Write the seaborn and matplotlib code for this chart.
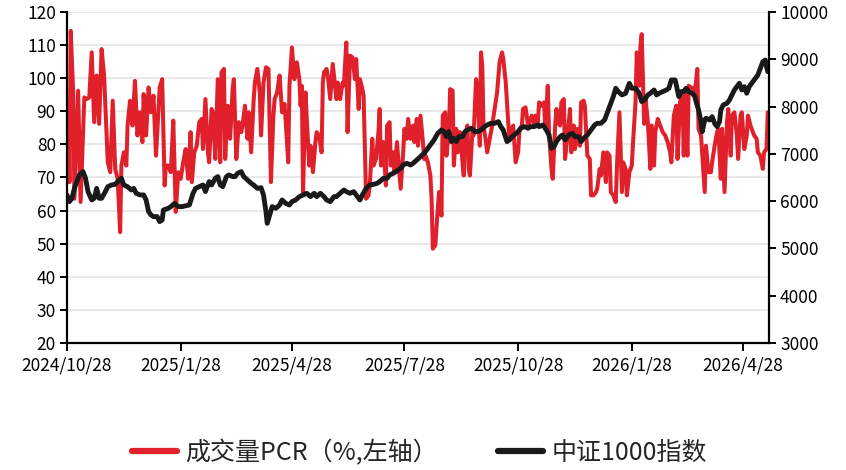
import numpy as np
import pandas as pd
import matplotlib
matplotlib.use("Agg")
import matplotlib.pyplot as plt
import seaborn as sns
from matplotlib.lines import Line2D

# ---------------- data ----------------
start_date = "2024-10-28"

pcr_days = [0, 1, 2, 3, 5, 6, 9, 11, 14, 16, 18, 20, 22, 24, 26, 28, 30, 33, 35, 37, 39, 41, 43, 44, 46, 48, 49,
            51, 53, 55, 57, 59, 61, 62, 64, 66, 68, 70, 72, 74, 75, 77, 79, 80, 82, 84, 86, 88, 90, 92, 94,
            96, 98, 100, 101, 103, 105, 107, 109, 110, 112, 114, 115, 117, 118, 120, 122, 124, 125, 127, 128,
            130, 132, 134, 135, 137, 139, 141, 142, 144, 146, 147, 149, 151, 152, 154, 156, 157, 159, 161, 163,
            164, 165, 167, 168, 170, 172, 174, 176, 177, 179, 180, 182, 184, 186, 188, 189,
            190, 191, 193, 194, 196, 197, 199, 201, 202, 204, 206, 207, 208, 210, 211, 213, 215, 216, 218, 219,
            221, 223, 224, 226, 227, 229, 231, 233, 234, 236, 237, 239, 240, 242, 244, 245, 247, 248, 250, 252,
            253, 254, 256, 258, 259, 261, 262, 264, 265, 267, 268, 270, 272, 273, 275, 276, 278, 280, 281, 283, 284,
            286, 288, 289, 290, 292, 294, 295, 296, 298, 300, 301, 303, 304, 306, 307, 309, 310, 312, 313, 315,
            316, 318, 320, 321, 322, 324, 325, 326, 328, 329, 331, 332, 334, 335, 336, 337, 339, 340, 342, 344,
            346, 348, 350, 352, 353, 355, 357, 358, 360, 361, 363, 365, 366, 368, 369, 371, 373, 374, 376, 378, 379,
            381, 382, 384, 386, 387, 389, 390, 392, 393, 395, 396, 397, 399, 400, 402, 403, 405, 407, 408, 410,
            411, 413, 415, 416, 418, 419, 421, 423, 424, 426, 428, 429, 431, 432, 434, 436, 437, 439, 440, 442,
            444, 445, 447, 449, 450, 452, 453, 455, 457, 458, 460, 461, 463, 464, 465, 467, 468, 470, 472, 473,
            475, 476, 478, 480, 482, 484, 486, 488, 489, 491, 493, 494, 496, 498, 499, 500, 502, 503, 505, 507,
            508, 510, 511, 513, 515, 516, 517, 519, 521, 522, 524, 526, 527, 529, 530, 532, 534, 535, 537, 538,
            540, 542, 543, 545, 546, 548, 550, 551, 553, 554, 556, 558, 559, 561, 563, 564, 566, 567]

pcr_values = [68.6, 92.7, 68.6, 114.3, 95.7, 63.6, 96.2, 62.6, 94.2, 93.7, 94.2, 107.8, 86.7, 100.8, 86.2, 108.8,
              100.8, 74.6, 71.6, 93.2, 72.6, 69.6, 53.5, 73.6, 77.6, 73.6, 85.7,
              93.2, 85.7, 99.2, 82.7, 89.7, 80.7, 95.2, 82.7, 97.2, 89.7, 94.7, 76.6, 90.7, 97.2, 99.7, 67.6, 73.6,
              73.6, 71.6, 87.2, 59.6, 71.6, 69.6, 74.6,
              78.6, 69.6, 83.7, 68.6, 77.6, 79.6, 86.7, 87.7, 78.6, 93.7, 77.6, 74.6, 90.7, 89.7, 75.6, 99.7, 74.6,
              101.8, 102.8, 75.6,
              91.7, 81.7, 96.7, 99.7, 75.6, 86.7, 83.7, 85.7, 91.7, 81.7, 89.7, 77.6, 93.2, 98.7, 102.8, 95.7, 82.7,
              98.7, 103.3, 102.8,
              85.7, 68.6, 88.7, 93.7, 95.7, 100.8, 89.7, 92.2, 86.7, 74.6, 97.7, 109.3, 99.7, 104.8, 99.7, 91.7,
              97.7, 65.6, 95.7, 87.7, 73.6, 79.6, 71.6, 80.7, 83.7, 82.7, 77.6, 98.7, 101.8, 102.8, 100.8, 93.7,
              104.3, 100.8, 93.7, 98.7,
              93.7, 98.7, 97.7, 110.8, 83.7, 106.8, 106.3, 99.7, 105.8, 90.7, 99.7, 96.7, 94.7, 63.6, 64.6, 67.6,
              81.7, 73.6, 75.6, 83.7,
              90.7, 73.6, 80.7, 67.6, 85.7, 86.7, 73.6, 77.6, 71.6, 80.7, 75.6, 66.6, 77.6, 84.7, 81.7, 87.7, 81.7,
              85.7, 80.7, 87.7, 79.6,
              88.7, 80.7, 75.6, 76.6, 74.6, 70.6, 63.6, 48.5, 49.5, 60.6, 65.6, 58.5, 88.7, 89.7, 76.6, 83.7, 96.7,
              96.2, 73.6, 84.7,
              77.6, 83.7, 74.6, 70.6, 82.7, 85.7, 72.6, 70.6, 83.7, 82.7, 99.7, 97.7, 79.6, 107.8, 103.8, 85.7,
              80.7, 77.6, 81.7, 85.7,
              90.7, 95.7, 104.8, 107.8, 105.8, 98.7, 86.7, 81.7, 84.7, 85.7, 74.6, 77.6, 83.7, 85.7, 90.7, 91.2,
              85.7, 86.7, 88.7, 85.7, 88.7,
              86.7, 92.7, 91.7, 92.7, 84.7, 97.7, 83.7, 72.6, 69.6, 85.7, 90.7, 86.7, 85.7, 92.7, 93.7, 75.6, 82.7,
              90.7, 77.6, 85.7,
              78.6, 84.7, 79.6, 92.7, 93.2, 91.7, 76.6, 75.6, 64.6, 64.6, 65.6, 66.6, 72.6, 70.6, 77.6, 68.6, 77.6,
              76.6, 65.6, 64.6,
              62.6, 73.6, 89.7, 65.6, 74.6, 72.6, 64.6, 71.6, 73.6, 80.7, 92.7, 107.8, 97.7, 109.8, 113.3, 86.2,
              94.2, 86.7, 72.6, 85.7,
              73.6, 83.7, 87.7, 85.7, 83.7, 82.7, 80.7, 77.6, 74.6, 88.7, 91.7, 75.6, 92.7, 95.7, 76.6, 96.7, 76.6,
              97.7, 97.2, 96.7,
              95.7, 102.8, 84.7, 82.7, 71.6, 65.6, 79.6, 71.6, 71.6, 74.6, 79.6, 83.7, 84.7, 69.6, 84.7, 65.6, 86.7,
              90.7, 76.6, 88.7,
              89.7, 82.7, 75.6, 88.7, 89.7, 78.6, 82.7, 88.7, 85.7, 84.7, 82.7, 81.7, 77.6, 76.6, 72.6, 77.6, 78.6,
              89.7]

idx_days = [0, 2, 4, 6, 10, 13, 15, 17, 20, 22, 24, 26, 28, 31, 33, 36, 39, 41, 44, 46, 49, 52, 54, 56, 59, 62,
            64, 66, 68, 70, 73, 75, 77, 78, 82, 84, 87, 90, 93,
            99, 102, 104, 107, 110, 112, 115, 117, 120, 122, 124, 126, 129, 131, 134, 136, 138, 141, 143, 146,
            149, 151, 154, 157, 159, 161, 162, 164, 166, 169, 172, 174, 177, 180, 182, 185, 188,
            191, 194, 197, 200, 202, 205, 208, 210, 213, 216, 218, 221, 224, 226, 229, 232, 235, 237, 239, 242,
            245, 248, 251, 253, 256, 259, 261, 264, 267, 270, 272, 275, 278, 280, 283, 286,
            287, 289, 292, 295, 297, 300, 303, 305, 307, 309, 311, 313, 315, 317, 320, 322, 324, 327, 330, 332,
            335, 338, 340, 343, 346, 349, 351, 353, 356, 358, 360, 362, 365, 367, 370, 373, 375, 378, 381,
            382, 385, 387, 390, 392, 394, 396, 399, 401, 403, 406, 409, 411, 414, 416, 418, 421, 424, 427, 429,
            432, 435, 437, 439, 442, 444, 446, 449, 452, 455, 457, 460, 463, 465, 467, 470, 472, 475,
            477, 479, 482, 485, 487, 489, 492, 493, 495, 497, 499, 501, 503, 506, 508, 509, 511, 513, 514, 516,
            517, 520, 522, 524, 526, 528, 529, 531, 534, 536, 538, 540, 542, 544, 546, 548, 550, 552, 555, 557,
            559, 561, 563, 565, 566, 567]

idx_values = [6131, 5990, 6060, 6270, 6554, 6624, 6483, 6201, 6025, 6060, 6270, 6060, 6060, 6201, 6306, 6342,
              6356, 6413, 6483, 6342, 6306, 6236, 6270, 6166, 6131, 6131,
              6025, 5778, 5708, 5672, 5672, 5567, 5602, 5813, 5849, 5884, 5954, 5884, 5884,
              5919, 6166, 6270, 6306, 6342, 6201, 6413, 6342, 6483, 6519, 6342, 6306, 6519, 6554, 6519, 6519,
              6589, 6624, 6519, 6448,
              6377, 6342, 6270, 6285, 6131, 5778, 5531, 5708, 5884, 5849, 5919, 6025, 5954, 5919, 5990, 6025, 6095,
              6131, 6166, 6095, 6166, 6095, 6166, 6095, 6025, 5990, 6095, 6095, 6166, 6236, 6201, 6166, 6201, 6095,
              6025, 6131, 6270,
              6342, 6356, 6377, 6413, 6483, 6483, 6554, 6589, 6638, 6695, 6765, 6800, 6765, 6800, 6871, 6941,
              6970, 7012, 7118, 7223, 7294, 7435, 7505, 7470, 7364, 7470, 7259, 7329, 7259, 7364, 7364, 7470,
              7505, 7541, 7470, 7470,
              7505, 7576, 7611, 7646, 7646, 7682, 7576, 7505, 7259, 7294, 7364, 7400, 7470, 7541, 7576, 7541,
              7576, 7576, 7611,
              7576, 7611, 7541, 7400, 7118, 7153, 7259, 7364, 7400, 7294, 7400, 7435, 7364, 7364, 7259, 7329,
              7400, 7505, 7611, 7646,
              7646, 7717, 7858, 7999, 8210, 8387, 8316, 8246, 8281, 8492, 8387, 8387, 8281, 8105, 8140, 8246,
              8281, 8351,
              8246, 8281, 8316, 8351, 8387, 8563, 8563, 8457, 8210, 8316, 8316, 8387, 8316, 8281, 8210, 8105,
              7928, 7682, 7470, 7717,
              7752, 7717, 7787, 7646, 7576, 7682, 7928, 8034, 8069, 8140, 8246, 8351, 8422, 8492, 8351, 8422,
              8281, 8422, 8528, 8598,
              8669, 8810, 8950, 8985, 8845, 8739]

tick_dates = ["2024-10-28", "2025-01-28", "2025-04-28", "2025-07-28", "2025-10-28", "2026-01-28", "2026-04-28"]
tick_labels = ["2024/10/28", "2025/1/28", "2025/4/28", "2025/7/28", "2025/10/28", "2026/1/28", "2026/4/28"]
left_ticks = [20, 30, 40, 50, 60, 70, 80, 90, 100, 110, 120]
right_ticks = [3000, 4000, 5000, 6000, 7000, 8000, 9000, 10000]
series_names = ["成交量PCR（%,左轴）", "中证1000指数"]

# ---------------- style ----------------
RED = "#E0202A"
BLACK = "#1A1A1A"

sns.set_style("white")
plt.rcParams["font.family"] = ["Noto Sans CJK SC", "DejaVu Sans"]

start = pd.Timestamp(start_date)
df_pcr = pd.DataFrame({"date": start + pd.to_timedelta(pcr_days, unit="D"), "value": pcr_values})
df_idx = pd.DataFrame({"date": start + pd.to_timedelta(idx_days, unit="D"), "value": idx_values})

fig = plt.figure(figsize=(8.46, 4.70), dpi=100)
ax = fig.add_axes([67 / 846, 1 - 343 / 470, (769 - 67) / 846, (343 - 12) / 470])

sns.lineplot(data=df_pcr, x="date", y="value", ax=ax, color=RED, linewidth=2.9, legend=False)
ax2 = ax.twinx()
sns.lineplot(data=df_idx, x="date", y="value", ax=ax2, color=BLACK, linewidth=3.5, legend=False)

ax.set_xlim(df_pcr["date"].iloc[0], df_pcr["date"].iloc[-1] + pd.Timedelta(days=1))
ax.set_ylim(left_ticks[0], left_ticks[-1])
ax2.set_ylim(right_ticks[0], right_ticks[-1])
ax.set_yticks(left_ticks)
ax2.set_yticks(right_ticks)
ax.set_xticks(pd.to_datetime(tick_dates))
ax.set_xticklabels(tick_labels)

for a in (ax, ax2):
    a.set_xlabel("")
    a.set_ylabel("")
    a.spines["top"].set_visible(False)

ax.grid(axis="y", color="#E9E9E9", linewidth=1.4)
ax.grid(axis="x", visible=False)
ax2.grid(False)
ax.set_axisbelow(True)

for sp in ("left", "bottom"):
    ax.spines[sp].set_color("black")
    ax.spines[sp].set_linewidth(1.6)
ax.spines["right"].set_visible(False)
ax2.spines["left"].set_visible(False)
ax2.spines["bottom"].set_visible(False)
ax2.spines["right"].set_color("black")
ax2.spines["right"].set_linewidth(1.6)

ax.tick_params(axis="y", direction="out", length=5, width=1.4, colors="black", labelsize=12.5, pad=3,
               left=True)
ax.tick_params(axis="x", direction="out", length=6, width=1.4, colors="black", labelsize=12.5, pad=4,
               bottom=True)
ax2.tick_params(axis="y", direction="out", length=5, width=1.4, colors="black", labelsize=12.5, pad=3,
                right=True)

handles = [Line2D([0], [0], color=RED, linewidth=4.5), Line2D([0], [0], color=BLACK, linewidth=4.5)]
fig.legend(handles, series_names, loc="center", bbox_to_anchor=(0.496, 0.036), ncol=2, frameon=False,
           fontsize=18, handlelength=1.8, handletextpad=0.35, columnspacing=2.4)

fig.savefig("out.png", dpi=100)
